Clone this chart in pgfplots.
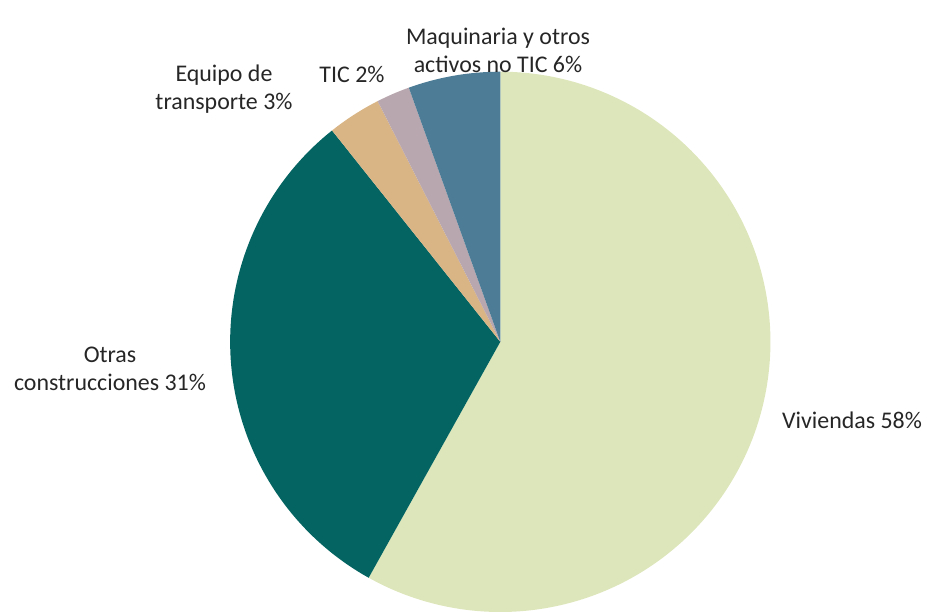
\documentclass[border=0pt]{standalone}
\usepackage{fontspec}
\setmainfont{Carlito}
\usepackage{pgfplots}
\pgfplotsset{compat=1.18}
\definecolor{cViv}{HTML}{DDE6BA}
\definecolor{cOtr}{HTML}{036461}
\definecolor{cEqu}{HTML}{D9B485}
\definecolor{cTic}{HTML}{B9A7AF}
\definecolor{cMaq}{HTML}{4D7D96}
% shares in percent
\def\pViv{58.1}
\def\pOtr{31.2}
\def\pEqu{3.2}
\def\pTic{2.0}
\def\pMaq{5.5}
\begin{document}
\begin{tikzpicture}[x=0.01cm,y=0.01cm]
\useasboundingbox (0,0) rectangle (927,611);
\pgfmathsetmacro{\aA}{90}
\pgfmathsetmacro{\aB}{\aA-3.6*\pViv}
\pgfmathsetmacro{\aC}{\aB-3.6*\pOtr}
\pgfmathsetmacro{\aD}{\aC-3.6*\pEqu}
\pgfmathsetmacro{\aE}{\aD-3.6*\pTic}
\pgfmathsetmacro{\aF}{\aE-3.6*\pMaq}
\begin{axis}[
  at={(0,0)}, anchor=south west,
  scale only axis, width=9.27cm, height=6.11cm,
  xmin=-500, xmax=427, ymin=-269, ymax=342,
  hide axis, clip=true,
  every axis plot/.append style={draw=none, samples=80, smooth},
]
\addplot[fill=cViv, domain=\aA:\aB, variable=\t] ({270*cos(\t)},{270*sin(\t)}) -- (0,0) -- cycle;
\addplot[fill=cOtr, domain=\aB:\aC, variable=\t] ({270*cos(\t)},{270*sin(\t)}) -- (0,0) -- cycle;
\addplot[fill=cEqu, domain=\aC:\aD, variable=\t] ({270*cos(\t)},{270*sin(\t)}) -- (0,0) -- cycle;
\addplot[fill=cTic, domain=\aD:\aE, variable=\t] ({270*cos(\t)},{270*sin(\t)}) -- (0,0) -- cycle;
\addplot[fill=cMaq, domain=\aE:\aF, variable=\t] ({270*cos(\t)},{270*sin(\t)}) -- (0,0) -- cycle;
\end{axis}
\begin{scope}[every node/.style={font=\fontsize{6.8}{7.9}\selectfont, align=center, inner sep=0pt, text=black!85}]
\node at (498,611-50) {Maquinaria y otros\\activos no TIC 6\%};
\node at (352,611-74) {TIC 2\%};
\node at (224,611-89) {Equipo de\\transporte 3\%};
\node at (110,611-369) {Otras\\construcciones 31\%};
\node at (852,611-420) {Viviendas 58\%};
\end{scope}
\end{tikzpicture}
\end{document}
